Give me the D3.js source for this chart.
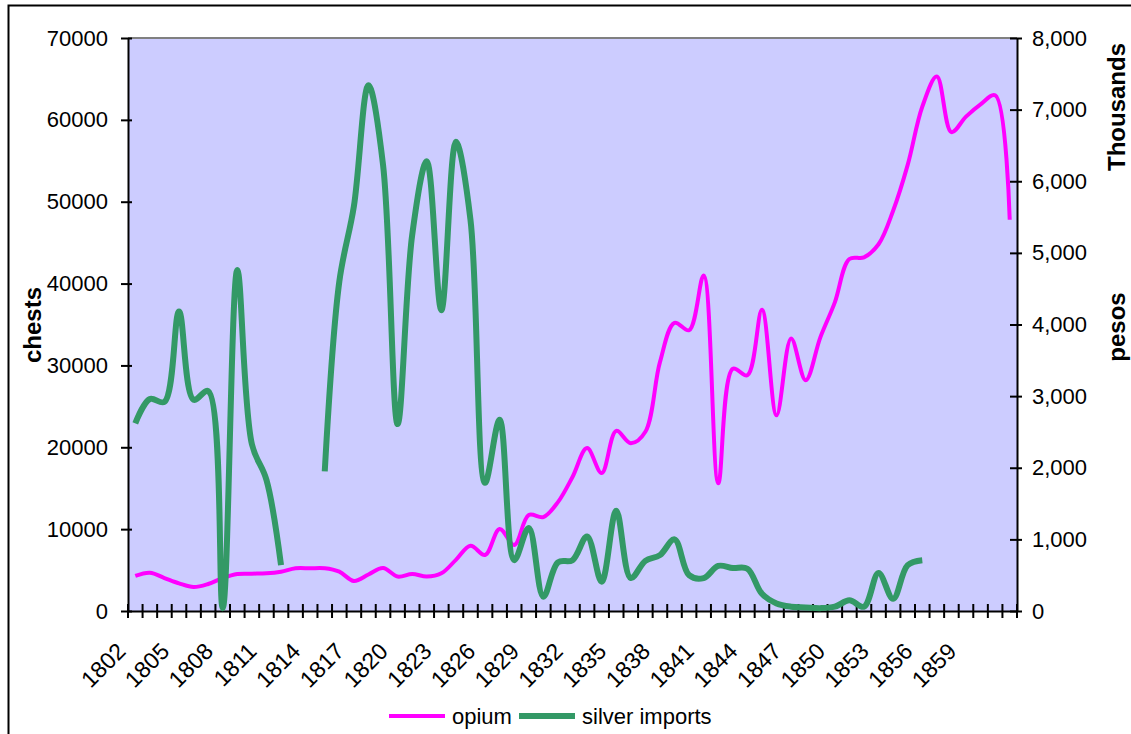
<!DOCTYPE html>
<html>
<head>
<meta charset="utf-8">
<script src="https://cdnjs.cloudflare.com/ajax/libs/d3/7.8.5/d3.min.js"></script>
<style>
  body { margin: 0; background: #fff; }
  text { font-family: Arial, "Liberation Sans", sans-serif; fill: #000; }
</style>
</head>
<body>
<div id="chart"></div>
<script>
// Opium (chests) vs silver imports (thousand pesos), 1802 - 1862

var years = [1802, 1803, 1804, 1805, 1806, 1807, 1808, 1809, 1810, 1811,
  1812, 1813, 1814, 1815, 1816, 1817, 1818, 1819, 1820, 1821,
  1822, 1823, 1824, 1825, 1826, 1827, 1828, 1829, 1830, 1831,
  1832, 1833, 1834, 1835, 1836, 1837, 1838, 1839, 1840, 1841,
  1842, 1843, 1844, 1845, 1846, 1847, 1848, 1849, 1850, 1851,
  1852, 1853, 1854, 1855, 1856, 1857, 1858, 1859, 1860, 1861, 1862];

// chests, left axis
var opium = [4280, 4680, 4030, 3380, 2930, 3300, 4030, 4520, 4560, 4600,
  4800, 5220, 5220, 5220, 4800, 3670, 4460, 5250, 4210, 4520,
  4210, 4600, 6250, 7980, 6840, 10020, 8060, 11730, 11480, 13300,
  16370, 19900, 16850, 22000, 20500, 21900, 30400, 35200, 34300, 41000,
  15600, 29600, 28800, 36800, 23900, 33300, 28200, 33400, 37700, 43000,
  43200, 44800, 48900, 54500, 61600, 65300, 58500, 60400, 61900, 63000, 47800];

// thousand pesos, right axis (gaps where no figure)
var silver = [2620, 2960, 2920, 4180, 2950, 3070, 40, 4760, 2330, 1830,
  640, null, null, 1950, 4600, 5650, 7340, 6230, 2610, 5250,
  6280, 4200, 6550, 5460, 1790, 2670, 710, 1160, 200, 680,
  710, 1040, 410, 1400, 460, 700, 780, 1000, 500, 460,
  630, 600, 590, 240, 105, 60, 50, 40, 60, 150,
  60, 530, 170, 640, 710, null, null, null, null, null, null];

var leftTicks = [0, 10000, 20000, 30000, 40000, 50000, 60000, 70000];
var rightTicks = [0, 1000, 2000, 3000, 4000, 5000, 6000, 7000, 8000];

// Chart box
var width = 1131;
var height = 734;
var plotLeft = 128;
var plotRight = 1017;
var plotTop = 38;
var plotBottom = 611;

var svg = d3
  .select("#chart")
  .append("svg")
  .attr("width", width)
  .attr("height", height);

// outer frame (runs off the right and bottom edge)
svg.append("rect")
  .attr("x", 8.5)
  .attr("y", 5.5)
  .attr("width", 1140)
  .attr("height", 740)
  .attr("fill", "#fff")
  .attr("stroke", "#000")
  .attr("stroke-width", 2);

// plot area
svg.append("rect")
  .attr("x", plotLeft)
  .attr("y", plotTop)
  .attr("width", plotRight - plotLeft)
  .attr("height", plotBottom - plotTop)
  .attr("fill", "#ccccff");

svg.append("line")
  .attr("x1", plotLeft).attr("x2", plotRight)
  .attr("y1", plotTop).attr("y2", plotTop)
  .attr("stroke", "#808080")
  .attr("stroke-width", 2);

// Scales
var xScale = d3.scaleBand()
  .domain(years)
  .range([plotLeft, plotRight])
  .paddingInner(0)
  .paddingOuter(0);

var yLeft = d3.scaleLinear()
  .domain([0, 70000])
  .range([plotBottom, plotTop]);

var yRight = d3.scaleLinear()
  .domain([0, 8000])
  .range([plotBottom, plotTop]);

function xMid(i) {
  return xScale(years[i]) + xScale.bandwidth() / 2;
}

// Left axis
var leftAxis = svg.append("g")
  .attr("transform", "translate(" + plotLeft + ",0)")
  .call(d3.axisLeft(yLeft).tickValues(leftTicks).tickFormat(d3.format("d")).tickSizeInner(7).tickSizeOuter(0).tickPadding(13));
leftAxis.selectAll(".tick line").attr("x2", 4).attr("x1", -7);

// Right axis
var rightAxis = svg.append("g")
  .attr("transform", "translate(" + plotRight + ",0)")
  .call(d3.axisRight(yRight).tickValues(rightTicks).tickFormat(d3.format(",")).tickSizeInner(5).tickSizeOuter(0).tickPadding(10));
rightAxis.selectAll(".tick line").attr("x1", -7).attr("x2", 5);

// Bottom axis: a tick between every year, a label every third year
var bottomAxis = svg.append("g")
  .attr("transform", "translate(0," + plotBottom + ")")
  .call(d3.axisBottom(xScale).tickSize(0).tickFormat(""));

var bounds = years.map(function(y) { return xScale(y); }).concat([plotRight]);
bottomAxis.selectAll(".tickmark")
  .data(bounds)
  .enter()
  .append("line")
  .attr("x1", function(d) { return d; })
  .attr("x2", function(d) { return d; })
  .attr("y1", -7)
  .attr("y2", 7)
  .attr("stroke", "#000")
  .attr("stroke-width", 2);

bottomAxis.selectAll(".yearLabel")
  .data(years.filter(function(y, i) { return i % 3 === 0 && y <= 1859; }))
  .enter()
  .append("text")
  .attr("class", "yearLabel")
  .attr("text-anchor", "end")
  .attr("dy", "0.35em")
  .attr("transform", function(d) {
    return "translate(" + (xScale(d) + xScale.bandwidth() / 2 - 14) + ",36)rotate(-45)";
  })
  .style("font-size", "23px")
  .text(function(d) { return d; });

[leftAxis, rightAxis, bottomAxis].forEach(function(a) {
  a.select(".domain").attr("stroke", "#000").attr("stroke-width", 2);
  a.selectAll(".tick line").attr("stroke", "#000").attr("stroke-width", 2);
  a.selectAll(".tick text").style("font-size", "22px").attr("fill", "#000");
});

// Axis titles
svg.append("text")
  .attr("transform", "translate(41,325)rotate(-90)")
  .attr("text-anchor", "middle")
  .style("font-size", "24px")
  .style("font-weight", "bold")
  .text("chests");

svg.append("text")
  .attr("transform", "translate(1125,327)rotate(-90)")
  .attr("text-anchor", "middle")
  .style("font-size", "24px")
  .style("font-weight", "bold")
  .text("pesos");

svg.append("text")
  .attr("transform", "translate(1125,107)rotate(-90)")
  .attr("text-anchor", "middle")
  .style("font-size", "24px")
  .style("font-weight", "bold")
  .text("Thousands");

// Lines
var opiumLine = d3.line()
  .x(function(d, i) { return xMid(i); })
  .y(function(d) { return yLeft(d); })
  .curve(d3.curveCatmullRom);

var silverLine = d3.line()
  .defined(function(d) { return d !== null; })
  .x(function(d, i) { return xMid(i); })
  .y(function(d) { return yRight(d); })
  .curve(d3.curveCatmullRom);

svg.append("path")
  .datum(opium)
  .attr("d", opiumLine)
  .attr("fill", "none")
  .attr("stroke", "#ff00ff")
  .attr("stroke-width", 4);

svg.append("path")
  .datum(silver)
  .attr("d", silverLine)
  .attr("fill", "none")
  .attr("stroke", "#339966")
  .attr("stroke-width", 6);

// Legend
var legend = [
  { name: "opium", color: "#ff00ff", w: 4, x: 389 },
  { name: "silver imports", color: "#339966", w: 6, x: 519 }
];

var legendG = svg.selectAll(".legend")
  .data(legend)
  .enter()
  .append("g")
  .attr("transform", function(d) { return "translate(" + d.x + ",716)"; });

legendG.append("line")
  .attr("x1", 0).attr("x2", 56)
  .attr("y1", 0).attr("y2", 0)
  .attr("stroke", function(d) { return d.color; })
  .attr("stroke-width", function(d) { return d.w; });

legendG.append("text")
  .attr("x", 63)
  .attr("dy", "0.35em")
  .style("font-size", "22px")
  .text(function(d) { return d.name; });
</script>
</body>
</html>
